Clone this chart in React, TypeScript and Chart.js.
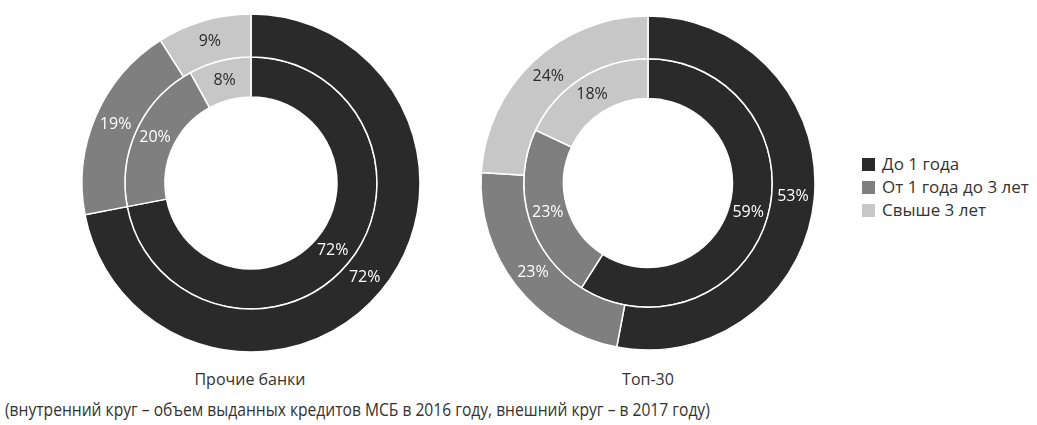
import React, { useEffect, useLayoutEffect, useRef } from "react";
import { Chart, registerables } from "chart.js";

Chart.register(...registerables);

// Loan term buckets
const categories = ["До 1 года", "От 1 года до 3 лет", "Свыше 3 лет"];
const colors = ["#2a2a2a", "#7f7f7f", "#c7c7c7"];
const labelColors = ["#ffffff", "#ffffff", "#2a2a2a"];

// Shares of SME loans, % (outer ring = 2017, inner ring = 2016)
const otherBanks2017 = [72, 19, 9];
const otherBanks2016 = [72, 20, 8];
const top30_2017 = [53, 23, 24];
const top30_2016 = [59, 23, 18];

const FONT = "'Open Sans', 'Noto Sans', sans-serif";
const NOTE = "(внутренний круг – объем выданных кредитов МСБ в 2016 году, внешний круг – в 2017 году)";
const NOTE_WIDTH = 705;

// Draws each slice's value at the middle of its arc
const sliceLabels = {
  id: "sliceLabels",
  afterDatasetsDraw(chart: any) {
    const ctx = chart.ctx;
    ctx.save();
    ctx.font = `16px ${FONT}`;
    ctx.textAlign = "center";
    ctx.textBaseline = "middle";
    chart.data.datasets.forEach((ds: any, di: number) => {
      const meta = chart.getDatasetMeta(di);
      meta.data.forEach((arc: any, i: number) => {
        const p = arc.getCenterPoint();
        ctx.fillStyle = labelColors[i];
        ctx.fillText(`${ds.data[i]}%`, p.x, p.y);
      });
    });
    ctx.restore();
  },
};

function Donut({
  outer,
  inner,
  radius,
  cutout,
  style,
}: {
  outer: number[];
  inner: number[];
  radius: number;
  cutout: string;
  style: React.CSSProperties;
}) {
  const ref = useRef<HTMLCanvasElement>(null);
  useEffect(() => {
    if (!ref.current) return;
    const chart = new Chart(ref.current, {
      type: "doughnut",
      data: {
        labels: categories,
        datasets: [
          {
            data: outer,
            backgroundColor: colors,
            borderColor: "#ffffff",
            borderWidth: 1.5,
            weight: 43,
          },
          {
            data: inner,
            backgroundColor: colors,
            borderColor: "#ffffff",
            borderWidth: 1.5,
            weight: 40,
          },
        ],
      },
      options: {
        responsive: false,
        animation: false,
        radius,
        cutout,
        layout: { padding: 0 },
        plugins: {
          legend: { display: false },
          tooltip: { enabled: false },
        },
      },
      plugins: [sliceLabels],
    });
    return () => chart.destroy();
  }, []);
  return <canvas ref={ref} width={360} height={360} style={{ position: "absolute", ...style }} />;
}

const textStyle: React.CSSProperties = {
  position: "absolute",
  fontFamily: FONT,
  color: "#333",
  whiteSpace: "nowrap",
  lineHeight: "20px",
};

// Footnote squeezed horizontally into a condensed look
function Note() {
  const ref = useRef<HTMLDivElement>(null);
  useLayoutEffect(() => {
    const el = ref.current;
    if (!el) return;
    const w = el.scrollWidth;
    if (w > 0) el.style.transform = `scaleX(${NOTE_WIDTH / w})`;
  }, []);
  return (
    <div
      ref={ref}
      style={{
        ...textStyle,
        left: 5,
        top: 399,
        fontSize: 18,
        transformOrigin: "0 50%",
      }}
    >
      {NOTE}
    </div>
  );
}

export default function App() {
  return (
    <div
      style={{
        position: "absolute",
        left: 0,
        top: 0,
        width: 1037,
        height: 425,
        background: "#fff",
        overflow: "hidden",
      }}
    >
      <Donut outer={otherBanks2017} inner={otherBanks2016} radius={169} cutout="50.9%" style={{ left: 71, top: 2.5 }} />
      <Donut outer={top30_2017} inner={top30_2016} radius={167} cutout="50.6%" style={{ left: 468, top: 2.5 }} />

      <div style={{ ...textStyle, left: 150, width: 200, top: 369, textAlign: "center", fontSize: 16 }}>Прочие банки</div>
      <div style={{ ...textStyle, left: 548, width: 200, top: 369, textAlign: "center", fontSize: 16 }}>Топ-30</div>

      {categories.map((c, i) => (
        <div key={c} style={{ position: "absolute", left: 862, top: 154 + i * 23, height: 20, display: "flex", alignItems: "center" }}>
          <div style={{ width: 13, height: 13, background: colors[i], marginRight: 7 }} />
          <div style={{ fontFamily: FONT, fontSize: 17, color: "#333", whiteSpace: "nowrap", lineHeight: "20px" }}>{c}</div>
        </div>
      ))}

      <Note />
    </div>
  );
}
